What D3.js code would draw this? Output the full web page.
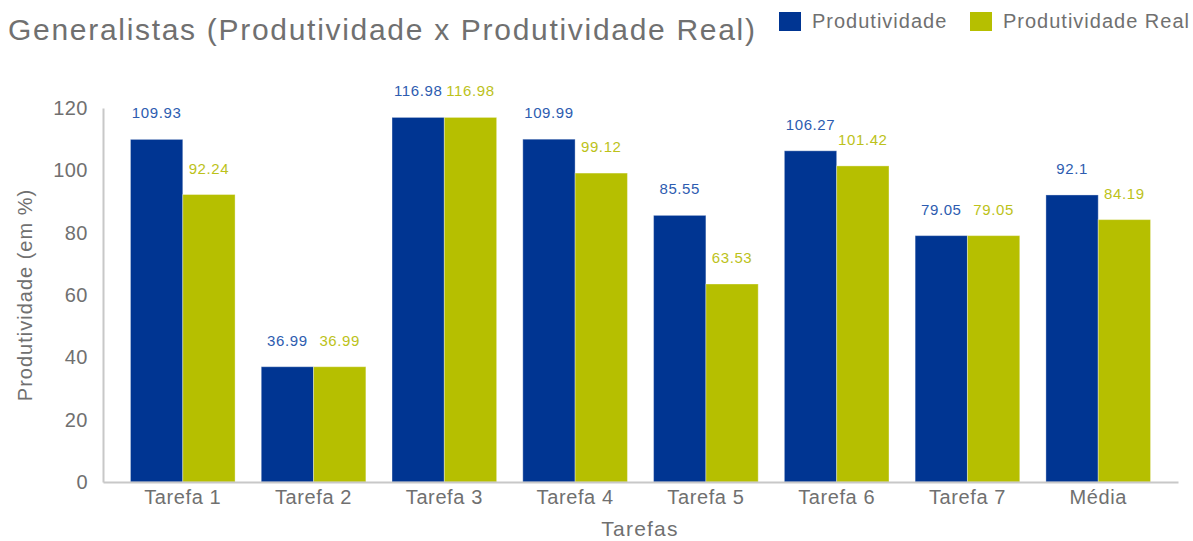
<!DOCTYPE html>
<html>
<head>
<meta charset="utf-8">
<script src="https://cdn.jsdelivr.net/npm/d3@7"></script>
<style>
    body { margin: 0; background: #fff; }
    text { font-family: "Liberation Sans", Arial, sans-serif; }
</style>
</head>
<body>
<div id="chart"></div>
<script>
// Data
const categories = ["Tarefa 1", "Tarefa 2", "Tarefa 3", "Tarefa 4", "Tarefa 5", "Tarefa 6", "Tarefa 7", "Média"];
const produtividade = [109.93, 36.99, 116.98, 109.99, 85.55, 106.27, 79.05, 92.1];
const produtividadeReal = [92.24, 36.99, 116.98, 99.12, 63.53, 101.42, 79.05, 84.19];
const seriesNames = ["Produtividade", "Produtividade Real"];
const yTicks = [0, 20, 40, 60, 80, 100, 120];

const colors = ["#003592", "#b6bf00"];
const labelColors = ["#2d5cb0", "#bcc21a"];
const textGrey = "#707070";

const width = 1193, height = 541;
const margin = { top: 108, right: 15, bottom: 59, left: 103 };

const svg = d3.select("#chart")
    .append("svg")
    .attr("width", width)
    .attr("height", height);

// Scales
const x = d3.scaleBand()
    .domain(categories)
    .range([margin.left, width - margin.right])
    .paddingInner(0.2)
    .paddingOuter(0.21);

const x1 = d3.scaleBand()
    .domain(seriesNames)
    .range([0, x.bandwidth()]);

const y = d3.scaleLinear()
    .domain([0, 120])
    .range([height - margin.bottom, margin.top]);

const data = categories.map((c, i) => ({
    category: c,
    values: [produtividade[i], produtividadeReal[i]]
}));

// Bars
const groups = svg.selectAll(".group")
    .data(data)
    .enter()
    .append("g")
    .attr("class", "group")
    .attr("transform", d => `translate(${x(d.category)},0)`);

groups.selectAll("rect")
    .data(d => d.values.map((v, k) => ({ key: seriesNames[k], k, v })))
    .enter()
    .append("rect")
    .attr("x", d => x1(d.key))
    .attr("y", d => y(d.v))
    .attr("width", x1.bandwidth())
    .attr("height", d => y(0) - y(d.v))
    .attr("fill", d => colors[d.k])
    .attr("stroke", "rgba(255,255,255,0.35)")
    .attr("stroke-width", 1);

// Value labels
groups.selectAll(".val")
    .data(d => d.values.map((v, k) => ({ key: seriesNames[k], k, v })))
    .enter()
    .append("text")
    .attr("class", "val")
    .attr("x", d => x1(d.key) + x1.bandwidth() / 2)
    .attr("y", d => y(d.v) - 21)
    .attr("text-anchor", "middle")
    .attr("font-size", 15)
    .attr("letter-spacing", 0.6)
    .attr("fill", d => labelColors[d.k])
    .text(d => d.v);

// Axes
const xAxis = svg.append("g")
    .attr("transform", `translate(0,${y(0)})`)
    .call(d3.axisBottom(x).tickSize(0).tickSizeOuter(0).tickPadding(8));
xAxis.select(".domain").attr("stroke", "#c8c8c8").attr("stroke-width", 2);
xAxis.selectAll("text").attr("font-size", 20).attr("fill", textGrey)
    .attr("letter-spacing", 0.6)
    .style("font-family", "'Liberation Sans', Arial, sans-serif");

const yAxis = svg.append("g")
    .attr("transform", `translate(${margin.left},0)`)
    .call(d3.axisLeft(y).tickValues(yTicks).tickSize(0).tickSizeOuter(0).tickPadding(15));
yAxis.select(".domain").attr("stroke", "#c8c8c8").attr("stroke-width", 2);
yAxis.selectAll("text").attr("font-size", 20).attr("fill", textGrey)
    .attr("letter-spacing", 0.5)
    .style("font-family", "'Liberation Sans', Arial, sans-serif");

// Axis titles
svg.append("text")
    .attr("x", 640)
    .attr("y", 536)
    .attr("text-anchor", "middle")
    .attr("font-size", 21)
    .attr("letter-spacing", 1.2)
    .attr("fill", textGrey)
    .text("Tarefas");

svg.append("text")
    .attr("transform", `translate(32,${(y(0) + y(120)) / 2}) rotate(-90)`)
    .attr("text-anchor", "middle")
    .attr("font-size", 20)
    .attr("letter-spacing", 1)
    .attr("fill", textGrey)
    .text("Produtividade (em %)");

// Title
svg.append("text")
    .attr("x", 8)
    .attr("y", 40)
    .attr("font-size", 30)
    .attr("letter-spacing", 1.7)
    .attr("fill", textGrey)
    .text("Generalistas (Produtividade x Produtividade Real)");

// Legend
const legendX = [779, 970];
const legend = svg.selectAll(".legend")
    .data(seriesNames)
    .enter()
    .append("g")
    .attr("class", "legend")
    .attr("transform", (d, i) => `translate(${legendX[i]},12)`);

legend.append("rect")
    .attr("width", 22)
    .attr("height", 19)
    .attr("fill", (d, i) => colors[i]);

legend.append("text")
    .attr("x", 33)
    .attr("y", 16)
    .attr("font-size", 20)
    .attr("letter-spacing", 1)
    .attr("fill", textGrey)
    .text(d => d);
</script>
</body>
</html>
